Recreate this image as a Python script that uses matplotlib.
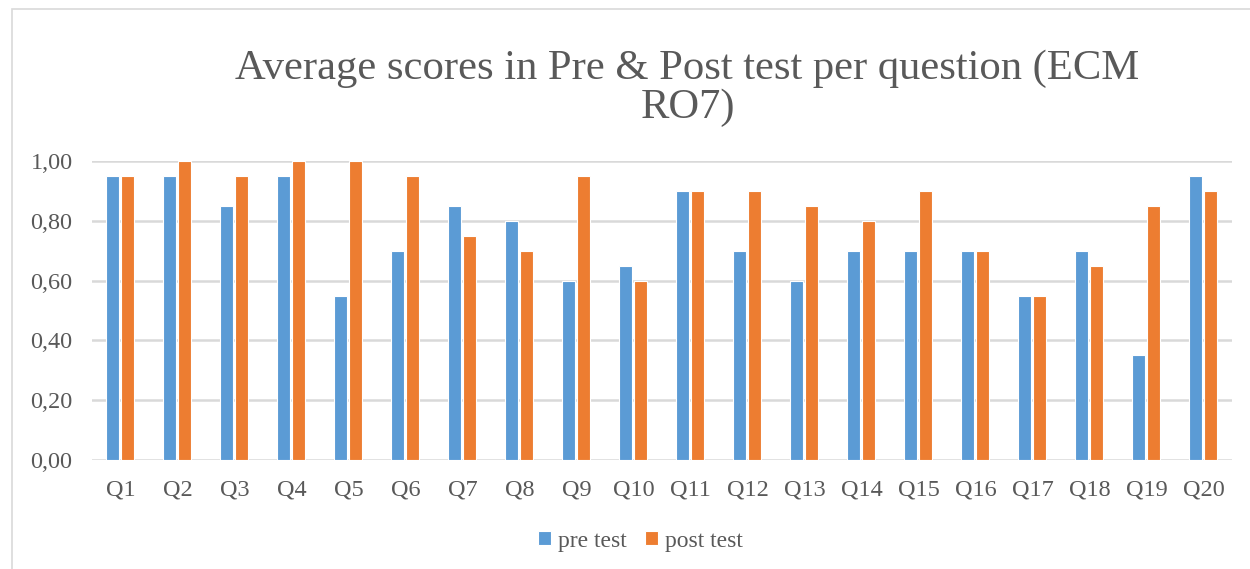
import matplotlib
matplotlib.use("Agg")
import matplotlib.pyplot as plt
import numpy as np
from matplotlib.patches import Rectangle

questions = [f"Q{i}" for i in range(1, 21)]
pre_test = [0.95, 0.95, 0.85, 0.95, 0.55, 0.70, 0.85, 0.80, 0.60, 0.65,
            0.90, 0.70, 0.60, 0.70, 0.70, 0.70, 0.55, 0.70, 0.35, 0.95]
post_test = [0.95, 1.00, 0.95, 1.00, 1.00, 0.95, 0.75, 0.70, 0.95, 0.60,
             0.90, 0.90, 0.85, 0.80, 0.90, 0.70, 0.55, 0.65, 0.85, 0.90]
y_ticks = [0.0, 0.2, 0.4, 0.6, 0.8, 1.0]

BLUE = "#5B9BD5"
ORANGE = "#ED7D31"
TEXT = "#595959"
GRID = "#D9D9D9"

plt.rcParams["font.family"] = ["Liberation Serif", "DejaVu Serif"]

fig = plt.figure(figsize=(12.5, 5.69), dpi=100)
ax = fig.add_axes([0.0736, 0.1916, 0.912, 0.5254])

# chart frame
fig.patches.append(Rectangle((12 / 1250, -0.05), 1.2, 1.05 - 9 / 569,
                             transform=fig.transFigure, fill=False,
                             edgecolor=GRID, linewidth=1.2))

x = np.arange(len(questions))
w = 0.23
ax.bar(x - 0.14, pre_test, w, color=BLUE, edgecolor="white",
       linewidth=0.8, label="pre test", zorder=3)
ax.bar(x + 0.13, post_test, w, color=ORANGE, edgecolor="white",
       linewidth=0.8, label="post test", zorder=3)

ax.set_xlim(-0.5, len(questions) - 0.5)
ax.set_ylim(0, 1.0)
ax.set_yticks(y_ticks)
ax.set_yticklabels([f"{v:.2f}".replace(".", ",") for v in y_ticks])
ax.set_xticks(x)
ax.set_xticklabels(questions)
ax.grid(axis="y", color=GRID, linewidth=1.8, zorder=0)
ax.set_axisbelow(True)
for s in ax.spines.values():
    s.set_visible(False)
ax.tick_params(length=0, labelsize=17.5, colors=TEXT)
ax.tick_params(axis="x", pad=14)
ax.tick_params(axis="y", pad=14)

fig.text(0.55, 0.845, "Average scores in Pre & Post test per question (ECM\nRO7)",
         ha="center", va="center", fontsize=30.7, color=TEXT, linespacing=1.0)

leg = fig.legend(loc="center", bbox_to_anchor=(0.5124, 0.049), ncol=2,
                 frameon=False, fontsize=17, handlelength=0.55,
                 handleheight=0.55, handletextpad=0.3, columnspacing=0.8)
for t in leg.get_texts():
    t.set_color(TEXT)

fig.savefig("out.png", dpi=100, facecolor="white")
